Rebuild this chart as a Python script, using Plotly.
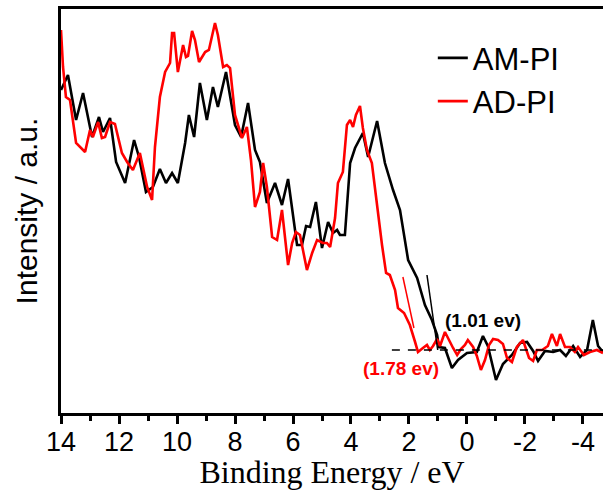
import plotly.graph_objects as go

# Binding energy (eV) and intensity (a.u.)
am_energy = [14.00, 13.76, 13.48, 13.24, 12.93, 12.69, 12.55, 12.31, 12.10, 11.79,
             11.48, 11.31, 11.07, 10.83, 10.59, 10.38, 10.17, 9.97, 9.72, 9.59,
             9.41, 9.21, 8.97, 8.76, 8.59, 8.31, 8.00, 7.79, 7.55, 7.31,
             7.14, 6.90, 6.62, 6.38, 6.17, 5.86, 5.69, 5.55, 5.41, 5.21,
             5.00, 4.79, 4.62, 4.48, 4.38, 4.21, 4.03, 3.86, 3.59, 3.41,
             3.10, 2.83, 2.55, 2.31, 2.03, 1.72, 1.45, 1.21, 1.03, 0.97,
             0.76, 0.52, 0.31, 0.00, -0.34, -0.55, -0.72, -1.00, -1.24, -1.55,
             -1.83, -2.07, -2.28, -2.45, -2.69, -2.97, -3.21, -3.41, -3.66, -3.90,
             -4.14, -4.34, -4.52, -4.69]
am_intensity = [323, 338, 293, 320, 276, 296, 281, 295, 251, 230,
                273, 256, 221, 226, 244, 230, 240, 230, 270, 298,
                276, 330, 293, 326, 306, 341, 288, 276, 310, 263,
                251, 210, 230, 208, 234, 168, 168, 187, 186, 211,
                165, 191, 180, 183, 178, 178, 250, 265, 280, 256,
                292, 250, 223, 203, 153, 135, 108, 93, 78, 66,
                65, 45, 53, 60, 61, 77, 67, 33, 49, 58,
                70, 71, 62, 52, 62, 61, 63, 57, 67, 56,
                63, 93, 67, 61]

ad_energy = [14.00, 13.93, 13.83, 13.69, 13.48, 13.17, 13.00, 12.90, 12.72, 12.59,
             12.48, 12.31, 12.14, 11.90, 11.72, 11.52, 11.28, 11.03, 10.86, 10.76,
             10.59, 10.41, 10.24, 10.17, 10.10, 9.97, 9.79, 9.69, 9.62, 9.48,
             9.38, 9.24, 9.03, 8.90, 8.69, 8.59, 8.41, 8.28, 8.17, 8.00,
             7.76, 7.59, 7.45, 7.31, 7.14, 7.03, 6.90, 6.72, 6.55, 6.38,
             6.17, 6.03, 5.90, 5.76, 5.52, 5.34, 5.17, 4.97, 4.83, 4.72,
             4.55, 4.45, 4.28, 4.14, 4.03, 3.93, 3.83, 3.69, 3.59, 3.45,
             3.28, 3.10, 2.93, 2.79, 2.66, 2.48, 2.38, 2.17, 1.97, 1.79,
             1.69, 1.52, 1.38, 1.28, 1.17, 1.03, 0.93, 0.76, 0.66, 0.48,
             0.34, 0.21, 0.07, -0.03, -0.21, -0.34, -0.48, -0.62, -0.76, -0.90,
             -1.07, -1.24, -1.38, -1.55, -1.72, -1.93, -2.14, -2.28, -2.41, -2.59,
             -2.79, -2.93, -3.10, -3.21, -3.38, -3.55, -3.72, -3.83, -4.03, -4.24,
             -4.48, -4.69]
ad_intensity = [383, 346, 316, 313, 270, 261, 283, 276, 291, 275,
                276, 291, 289, 260, 251, 243, 260, 226, 213, 266,
                316, 341, 350, 380, 380, 341, 368, 356, 357, 382,
                373, 351, 361, 363, 390, 378, 346, 348, 345, 298,
                275, 286, 253, 206, 221, 250, 226, 176, 173, 203,
                148, 170, 181, 178, 143, 160, 173, 170, 170, 166,
                195, 230, 241, 288, 293, 286, 298, 307, 285, 263,
                250, 206, 168, 140, 138, 123, 105, 100, 88, 71,
                61, 65, 68, 63, 67, 74, 67, 81, 75, 65,
                58, 64, 68, 73, 66, 57, 43, 53, 68, 74,
                73, 69, 55, 51, 66, 73, 55, 52, 63, 63,
                67, 79, 67, 79, 66, 66, 61, 66, 58, 61,
                63, 60]

# Baseline and onset tangents
baseline_energy = [2.59, -4.69]
baseline_intensity = [63, 63]
am_tangent_energy = [1.38, 1.01]
am_tangent_intensity = [138, 63]
ad_tangent_energy = [2.21, 1.83]
ad_tangent_intensity = [136, 85]

x_ticks = [14, 12, 10, 8, 6, 4, 2, 0, -2, -4]
x_tick_labels = ["14", "12", "10", "8", "6", "4", "2", "0", "-2", "-4"]

SANS = "Liberation Sans, Arial, sans-serif"
SERIF = "Liberation Serif, Times New Roman, serif"

fig = go.Figure()
fig.add_trace(go.Scatter(x=am_energy, y=am_intensity, mode="lines", name="AM-PI",
                         line=dict(color="#000000", width=2.6)))
fig.add_trace(go.Scatter(x=ad_energy, y=ad_intensity, mode="lines", name="AD-PI",
                         line=dict(color="#ff0000", width=2.6)))
fig.add_trace(go.Scatter(x=baseline_energy, y=baseline_intensity, mode="lines",
                         showlegend=False, line=dict(color="#000000", width=1.5, dash="8px,8px")))
fig.add_trace(go.Scatter(x=am_tangent_energy, y=am_tangent_intensity, mode="lines",
                         showlegend=False, line=dict(color="#000000", width=1.5)))
fig.add_trace(go.Scatter(x=ad_tangent_energy, y=ad_tangent_intensity, mode="lines",
                         showlegend=False, line=dict(color="#ff0000", width=1.5)))

fig.add_annotation(x=-0.55, y=93, xref="x", yref="y", text="<b>(1.01 ev)</b>",
                   showarrow=False, font=dict(family=SANS, size=19, color="#000000"))
fig.add_annotation(x=2.28, y=45, xref="x", yref="y", text="<b>(1.78 ev)</b>",
                   showarrow=False, font=dict(family=SANS, size=19, color="#ff0000"))

fig.update_layout(
    width=603, height=490,
    margin=dict(l=61, r=0, t=9, b=77, autoexpand=False),
    paper_bgcolor="white", plot_bgcolor="white",
    showlegend=True,
    legend=dict(x=0.686, y=0.945, xanchor="left", yanchor="top",
                font=dict(family=SANS, size=31, color="#000000"),
                bgcolor="rgba(0,0,0,0)", borderwidth=0, tracegroupgap=0),
    xaxis=dict(range=[14, -4.69], tickvals=x_ticks, ticktext=x_tick_labels,
               ticks="outside", ticklen=8, tickwidth=2.5, ticklabelstandoff=-5,
               tickcolor="#000000", showline=True, linecolor="#000000", linewidth=3,
               mirror=True, showgrid=False, zeroline=False,
               minor=dict(dtick=1, tick0=0, ticks="outside", ticklen=5, tickwidth=2.5,
                          tickcolor="#000000", showgrid=False),
               tickfont=dict(family=SANS, size=27, color="#000000"),
               title=dict(text="Binding Energy / eV", standoff=6,
                          font=dict(family=SERIF, size=32, color="#000000")),
               automargin=False),
    yaxis=dict(range=[0, 404], showticklabels=False, ticks="", showline=True,
               linecolor="#000000", linewidth=3, mirror=False, showgrid=False,
               zeroline=False,
               title=dict(text="Intensity / a.u.", standoff=12,
                          font=dict(family=SANS, size=30, color="#000000")),
               automargin=False),
)

fig.write_html("out.html", config={"displayModeBar": False},
               post_script="document.body.style.margin='0';document.body.style.overflow='hidden';")
